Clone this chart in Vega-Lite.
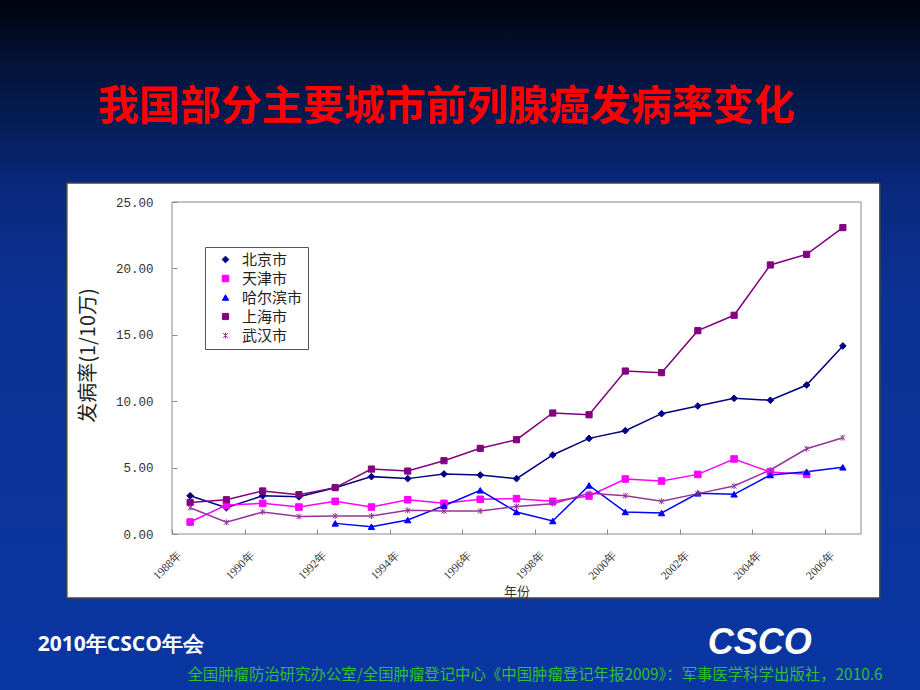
{
  "$schema": "https://vega.github.io/schema/vega-lite/v6.json",
  "width": 689,
  "height": 332,
  "autosize": {"type": "none"},
  "padding": {"left": 172, "top": 202, "right": 59, "bottom": 156},
  "background": "#0a2f95",
  "config": {"view": {"stroke": null}, "axis": {"grid": false, "zindex": 1, "labelOverlap": false}, "axisX": {"labelOverlap": false}},
  "datasets": {
    "rates": [
      {"year": 1988, "city": "北京市", "rate": 2.88},
      {"year": 1989, "city": "北京市", "rate": 1.98},
      {"year": 1990, "city": "北京市", "rate": 2.88},
      {"year": 1991, "city": "北京市", "rate": 2.80},
      {"year": 1992, "city": "北京市", "rate": 3.49},
      {"year": 1993, "city": "北京市", "rate": 4.32},
      {"year": 1994, "city": "北京市", "rate": 4.17},
      {"year": 1995, "city": "北京市", "rate": 4.52},
      {"year": 1996, "city": "北京市", "rate": 4.44},
      {"year": 1997, "city": "北京市", "rate": 4.17},
      {"year": 1998, "city": "北京市", "rate": 5.95},
      {"year": 1999, "city": "北京市", "rate": 7.20},
      {"year": 2000, "city": "北京市", "rate": 7.78},
      {"year": 2001, "city": "北京市", "rate": 9.06},
      {"year": 2002, "city": "北京市", "rate": 9.64},
      {"year": 2003, "city": "北京市", "rate": 10.22},
      {"year": 2004, "city": "北京市", "rate": 10.07},
      {"year": 2005, "city": "北京市", "rate": 11.22},
      {"year": 2006, "city": "北京市", "rate": 14.16},
      {"year": 1988, "city": "天津市", "rate": 0.90},
      {"year": 1989, "city": "天津市", "rate": 2.18},
      {"year": 1990, "city": "天津市", "rate": 2.31},
      {"year": 1991, "city": "天津市", "rate": 2.03},
      {"year": 1992, "city": "天津市", "rate": 2.46},
      {"year": 1993, "city": "天津市", "rate": 2.03},
      {"year": 1994, "city": "天津市", "rate": 2.58},
      {"year": 1995, "city": "天津市", "rate": 2.31},
      {"year": 1996, "city": "天津市", "rate": 2.61},
      {"year": 1997, "city": "天津市", "rate": 2.66},
      {"year": 1998, "city": "天津市", "rate": 2.46},
      {"year": 1999, "city": "天津市", "rate": 2.86},
      {"year": 2000, "city": "天津市", "rate": 4.14},
      {"year": 2001, "city": "天津市", "rate": 3.99},
      {"year": 2002, "city": "天津市", "rate": 4.49},
      {"year": 2003, "city": "天津市", "rate": 5.65},
      {"year": 2004, "city": "天津市", "rate": 4.67},
      {"year": 2005, "city": "天津市", "rate": 4.49},
      {"year": 1992, "city": "哈尔滨市", "rate": 0.80},
      {"year": 1993, "city": "哈尔滨市", "rate": 0.55},
      {"year": 1994, "city": "哈尔滨市", "rate": 1.05},
      {"year": 1995, "city": "哈尔滨市", "rate": 2.13},
      {"year": 1996, "city": "哈尔滨市", "rate": 3.29},
      {"year": 1997, "city": "哈尔滨市", "rate": 1.66},
      {"year": 1998, "city": "哈尔滨市", "rate": 0.98},
      {"year": 1999, "city": "哈尔滨市", "rate": 3.66},
      {"year": 2000, "city": "哈尔滨市", "rate": 1.66},
      {"year": 2001, "city": "哈尔滨市", "rate": 1.58},
      {"year": 2002, "city": "哈尔滨市", "rate": 3.06},
      {"year": 2003, "city": "哈尔滨市", "rate": 2.99},
      {"year": 2004, "city": "哈尔滨市", "rate": 4.44},
      {"year": 2005, "city": "哈尔滨市", "rate": 4.69},
      {"year": 2006, "city": "哈尔滨市", "rate": 5.02},
      {"year": 1988, "city": "上海市", "rate": 2.38},
      {"year": 1989, "city": "上海市", "rate": 2.58},
      {"year": 1990, "city": "上海市", "rate": 3.24},
      {"year": 1991, "city": "上海市", "rate": 2.96},
      {"year": 1992, "city": "上海市", "rate": 3.49},
      {"year": 1993, "city": "上海市", "rate": 4.89},
      {"year": 1994, "city": "上海市", "rate": 4.74},
      {"year": 1995, "city": "上海市", "rate": 5.52},
      {"year": 1996, "city": "上海市", "rate": 6.45},
      {"year": 1997, "city": "上海市", "rate": 7.10},
      {"year": 1998, "city": "上海市", "rate": 9.11},
      {"year": 1999, "city": "上海市", "rate": 8.98},
      {"year": 2000, "city": "上海市", "rate": 12.27},
      {"year": 2001, "city": "上海市", "rate": 12.15},
      {"year": 2002, "city": "上海市", "rate": 15.31},
      {"year": 2003, "city": "上海市", "rate": 16.47},
      {"year": 2004, "city": "上海市", "rate": 20.26},
      {"year": 2005, "city": "上海市", "rate": 21.06},
      {"year": 2006, "city": "上海市", "rate": 23.07},
      {"year": 1988, "city": "武汉市", "rate": 1.98},
      {"year": 1989, "city": "武汉市", "rate": 0.88},
      {"year": 1990, "city": "武汉市", "rate": 1.66},
      {"year": 1991, "city": "武汉市", "rate": 1.31},
      {"year": 1992, "city": "武汉市", "rate": 1.36},
      {"year": 1993, "city": "武汉市", "rate": 1.36},
      {"year": 1994, "city": "武汉市", "rate": 1.78},
      {"year": 1995, "city": "武汉市", "rate": 1.73},
      {"year": 1996, "city": "武汉市", "rate": 1.73},
      {"year": 1997, "city": "武汉市", "rate": 2.08},
      {"year": 1998, "city": "武汉市", "rate": 2.28},
      {"year": 1999, "city": "武汉市", "rate": 3.06},
      {"year": 2000, "city": "武汉市", "rate": 2.88},
      {"year": 2001, "city": "武汉市", "rate": 2.46},
      {"year": 2002, "city": "武汉市", "rate": 3.04},
      {"year": 2003, "city": "武汉市", "rate": 3.61},
      {"year": 2004, "city": "武汉市", "rate": 4.82},
      {"year": 2005, "city": "武汉市", "rate": 6.42},
      {"year": 2006, "city": "武汉市", "rate": 7.25}
    ]
  },
  "layer": [
    {
      "data": {"values": [{"part": "slide background"}]},
      "mark": {
        "type": "rect",
        "clip": false,
        "fill": {
          "gradient": "linear", "x1": 0, "y1": 0, "x2": 0, "y2": 1,
          "stops": [
            {"offset": 0, "color": "#00010a"},
            {"offset": 0.036, "color": "#010716"},
            {"offset": 0.1, "color": "#031236"},
            {"offset": 0.184, "color": "#061c55"},
            {"offset": 0.282, "color": "#0a297e"},
            {"offset": 0.437, "color": "#0b3294"},
            {"offset": 1, "color": "#0a36a3"}
          ]
        }
      },
      "encoding": {
        "x": {"datum": 1982.5, "type": "quantitative", "scale": {"domain": [1987.5, 2006.5], "nice": false, "zero": false}},
        "x2": {"datum": 2008.5},
        "y": {"datum": 41, "type": "quantitative", "scale": {"domain": [0, 25], "nice": false}},
        "y2": {"datum": -12.5}
      }
    },
    {
      "data": {"values": [{"part": "chart panel"}]},
      "mark": {"type": "rect", "clip": false, "fill": "#ffffff", "stroke": "#444444", "strokeWidth": 1.5},
      "encoding": {
        "x": {"datum": 1984.6, "type": "quantitative", "scale": {"domain": [1987.5, 2006.5], "nice": false, "zero": false}},
        "x2": {"datum": 2007.02},
        "y": {"datum": 26.43, "type": "quantitative", "scale": {"domain": [0, 25], "nice": false}},
        "y2": {"datum": -4.82}
      }
    },
    {
      "data": {"values": [{"part": "plot frame"}]},
      "mark": {"type": "rect", "clip": false, "fillOpacity": 0, "stroke": "#888888", "strokeWidth": 1},
      "encoding": {
        "x": {"datum": 1987.5, "type": "quantitative", "scale": {"domain": [1987.5, 2006.5], "nice": false, "zero": false}},
        "x2": {"datum": 2006.5},
        "y": {"datum": 25, "type": "quantitative", "scale": {"domain": [0, 25], "nice": false}},
        "y2": {"datum": 0}
      }
    },
    {
      "data": {"name": "rates"},
      "encoding": {
        "x": {
          "field": "year", "type": "quantitative",
          "scale": {"domain": [1987.5, 2006.5], "nice": false, "zero": false},
          "axis": {
            "zindex": 2,
            "values": [1987.5, 1988.5, 1989.5, 1990.5, 1991.5, 1992.5, 1993.5, 1994.5, 1995.5, 1996.5, 1997.5, 1998.5, 1999.5, 2000.5, 2001.5, 2002.5, 2003.5, 2004.5, 2005.5],
            "labelExpr": "floor(datum.value + 0.5) + '年'",
            "labelAngle": -45, "labelAlign": "right", "labelBaseline": "middle",
            "labelOffset": 8, "labelPadding": 24, "labelOverlap": false,
            "labelFont": "Liberation Serif", "labelFontSize": 11.5, "labelColor": "#333333",
            "tickSize": -5, "tickColor": "#888888", "domain": false,
            "title": "年份", "titleFont": "Noto Sans CJK SC", "titleFontSize": 13, "titleFontWeight": "normal",
            "titleColor": "#333333", "titleY": 57, "titleBaseline": "middle"
          }
        },
        "y": {
          "field": "rate", "type": "quantitative",
          "scale": {"domain": [0, 25], "nice": false},
          "axis": {
            "zindex": 2,
            "values": [0, 5, 10, 15, 20, 25], "format": ".2f",
            "labelFont": "Liberation Mono", "labelFontSize": 12.5, "labelColor": "#333333", "labelPadding": 24,
            "tickSize": -5, "tickColor": "#888888", "domain": false,
            "title": "发病率(1/10万)", "titleFont": "Noto Sans CJK SC", "titleFontSize": 20, "titleFontWeight": "normal",
            "titleColor": "#222222", "titleX": -84, "titleY": 153, "titleAngle": -90, "titleAlign": "center", "titleBaseline": "middle"
          }
        },
        "color": {
          "field": "city", "type": "nominal",
          "scale": {"domain": ["北京市", "天津市", "哈尔滨市", "上海市", "武汉市"], "range": ["#000080", "#ff00ff", "#0000ff", "#800080", "#993399"]},
          "legend": {
            "title": null, "orient": "none", "legendX": 33, "legendY": 45,
            "fillColor": "#ffffff", "strokeColor": "#555555", "padding": 5,
            "symbolSize": 55, "symbolOffset": 8, "symbolStrokeWidth": 1,
            "labelOffset": 9, "labelFont": "Noto Sans CJK SC", "labelFontSize": 15, "labelColor": "#222222",
            "rowPadding": 3
          }
        }
      },
      "layer": [
        {"mark": {"type": "line", "strokeWidth": 1.5}},
        {
          "mark": {"type": "point", "filled": true, "opacity": 1, "strokeWidth": 1},
          "encoding": {
            "shape": {
              "field": "city", "type": "nominal",
              "scale": {"domain": ["北京市", "天津市", "哈尔滨市", "上海市", "武汉市"], "range": ["diamond", "square", "triangle-up", "square", "M0,-1L0,1M-0.8,-0.8L0.8,0.8M-0.8,0.8L0.8,-0.8"]},
              "legend": null
            },
            "size": {
              "field": "city", "type": "nominal",
              "scale": {"domain": ["北京市", "天津市", "哈尔滨市", "上海市", "武汉市"], "range": [45, 36, 50, 72, 60]},
              "legend": null
            },
            "stroke": {
              "field": "city", "type": "nominal",
              "scale": {"domain": ["北京市", "天津市", "哈尔滨市", "上海市", "武汉市"], "range": ["#000080", "#ff00ff", "#0000ff", "#800080", "#993399"]},
              "legend": null
            }
          }
        }
      ]
    },
    {
      "data": {"values": [{"note": "我国部分主要城市前列腺癌发病率变化"}]},
      "mark": {"type": "text", "clip": false, "font": "Noto Sans CJK SC", "fontWeight": "bold", "fontSize": 41, "color": "#ff0000", "align": "center", "baseline": "middle"},
      "encoding": {
        "x": {"datum": 1995.06, "type": "quantitative", "scale": {"domain": [1987.5, 2006.5], "nice": false, "zero": false}},
        "y": {"datum": 32.1, "type": "quantitative", "scale": {"domain": [0, 25], "nice": false}},
        "text": {"field": "note"}
      }
    },
    {
      "data": {"values": [{"note": "2010年CSCO年会"}]},
      "mark": {"type": "text", "clip": false, "font": "Open Sans", "fontWeight": "bold", "fontSize": 21, "color": "#ffffff", "align": "left", "baseline": "middle"},
      "encoding": {
        "x": {"datum": 1983.8, "type": "quantitative", "scale": {"domain": [1987.5, 2006.5], "nice": false, "zero": false}},
        "y": {"datum": -8.36, "type": "quantitative", "scale": {"domain": [0, 25], "nice": false}},
        "text": {"field": "note"}
      }
    },
    {
      "data": {"values": [{"note": "CSCO"}]},
      "mark": {"type": "text", "clip": false, "font": "Liberation Sans", "fontWeight": "bold", "fontStyle": "italic", "fontSize": 36, "color": "#ffffff", "align": "center", "baseline": "middle"},
      "encoding": {
        "x": {"datum": 2003.71, "type": "quantitative", "scale": {"domain": [1987.5, 2006.5], "nice": false, "zero": false}},
        "y": {"datum": -8.21, "type": "quantitative", "scale": {"domain": [0, 25], "nice": false}},
        "text": {"field": "note"}
      }
    },
    {
      "data": {"values": [{"note": "全国肿瘤防治研究办公室/全国肿瘤登记中心《中国肿瘤登记年报2009》：军事医学科学出版社，2010.6"}]},
      "mark": {"type": "text", "clip": false, "font": "Noto Sans CJK SC", "fontSize": 15.4, "color": "#2fbf2f", "align": "center", "baseline": "middle"},
      "encoding": {
        "x": {"datum": 1997.51, "type": "quantitative", "scale": {"domain": [1987.5, 2006.5], "nice": false, "zero": false}},
        "y": {"datum": -10.62, "type": "quantitative", "scale": {"domain": [0, 25], "nice": false}},
        "text": {"field": "note"}
      }
    }
  ]
}
